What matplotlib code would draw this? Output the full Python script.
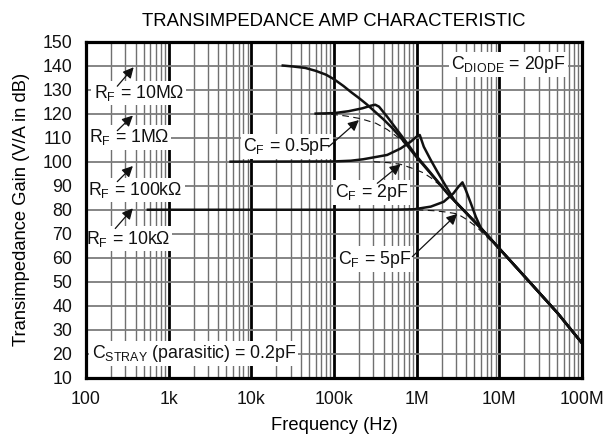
import matplotlib
matplotlib.use("Agg")
import matplotlib.pyplot as plt
from matplotlib.ticker import FixedLocator, NullFormatter

plt.rcParams['font.family'] = ['Liberation Sans', 'DejaVu Sans']
plt.rcParams['mathtext.default'] = 'regular'

# values: frequency (Hz), gain (dB)
tail_f = [2.4e6, 6.0e6, 1.04e7, 2.4e7, 5.1e7, 1.0e8]
tail_db = [86.5, 72.3, 63.2, 49.4, 36.9, 24.5]

rf10m_f = [2.4e4, 3.2e4, 4.5e4, 6.0e4, 8.0e4, 1.0e5, 1.3e5, 1.6e5, 2.0e5, 2.5e5,
           3.2e5, 4.0e5, 5.0e5, 6.3e5, 8.0e5, 1.0e6, 1.4e6]
rf10m_db = [140, 139.6, 139.0, 137.8, 136.2, 134.3, 131.5, 129.0, 126.5, 123.8,
            120.5, 117.5, 114.2, 110.3, 106.0, 101.8, 96.0]

rf1m_f = [6.0e4, 1.0e5, 1.5e5, 2.2e5, 2.8e5, 3.15e5, 3.5e5, 4.4e5, 5.8e5, 7.7e5, 9.7e5, 1.4e6]
rf1m_db = [120, 120.2, 121.0, 122.2, 123.3, 123.7, 122.9, 118.7, 113.2, 107.6, 102.8, 96.3]

rf100k_f = [5.6e3, 1.0e5, 1.6e5, 2.25e5, 4.4e5, 6.4e5, 8.45e5, 1.02e6, 1.09e6, 1.22e6,
            1.48e6, 1.78e6, 2.3e6, 2.9e6]
rf100k_db = [100, 100.1, 100.4, 101.0, 102.8, 105.5, 108.3, 110.7, 111.1, 106.2,
             100.7, 95.8, 89.3, 83.6]

rf10k_f = [5.6e2, 5.0e5, 9.3e5, 1.48e6, 2.12e6, 2.78e6, 3.21e6, 3.58e6, 3.93e6, 4.52e6, 5.19e6]
rf10k_db = [80, 80, 80.2, 81.3, 83.3, 86.8, 89.6, 91.4, 88.2, 82.7, 77.1]

cf05_f = [6.8e4, 1.0e5, 1.4e5, 2.1e5, 3.2e5, 4.4e5, 6.4e5, 8.7e5, 1.1e6]
cf05_db = [120, 119.6, 119.0, 117.9, 116.0, 113.4, 109.3, 104.6, 100.0]

cf2_f = [3.0e5, 4.5e5, 6.4e5, 9.3e5, 1.2e6, 1.5e6, 2.1e6, 2.8e6]
cf2_db = [100, 99.6, 98.9, 97.0, 95.4, 93.2, 89.0, 84.0]

cf5_f = [1.0e6, 1.6e6, 2.2e6, 3.1e6, 4.1e6, 5.4e6, 7.5e6]
cf5_db = [80, 79.6, 79.1, 78.3, 75.8, 72.6, 67.8]

x_ticks = [1e2, 1e3, 1e4, 1e5, 1e6, 1e7, 1e8]
x_labels = ['100', '1k', '10k', '100k', '1M', '10M', '100M']
y_ticks = list(range(10, 151, 10))


def with_tail(f, db):
    ff = list(f) + [t for t in tail_f if t > f[-1]]
    dd = list(db) + [d for t, d in zip(tail_f, tail_db) if t > f[-1]]
    return ff, dd


fig = plt.figure(figsize=(6.14, 4.43), dpi=100)
ax = fig.add_axes([86 / 614, 1 - 378 / 443, 496 / 614, 336.5 / 443])
ax.set_xscale('log')
ax.set_xlim(1e2, 1e8)
ax.set_ylim(10, 150)

# grid
minor = [m * 10 ** e for e in range(2, 8) for m in range(2, 10)]
for x in minor:
    ax.axvline(x, color='#707070', lw=1.0, zorder=1)
for x in x_ticks[1:-1]:
    ax.axvline(x, color='black', lw=2.0, zorder=1)
for y in y_ticks[1:-1]:
    ax.axhline(y, color='#7c7c7c', lw=1.3, zorder=1)

for f, db in [(rf10m_f, rf10m_db), (rf1m_f, rf1m_db), (rf100k_f, rf100k_db), (rf10k_f, rf10k_db)]:
    ff, dd = with_tail(f, db)
    ax.plot(ff, dd, color='#111111', lw=1.8, solid_joinstyle='round', zorder=5)
for f, db in [(cf05_f, cf05_db), (cf2_f, cf2_db), (cf5_f, cf5_db)]:
    ff, dd = with_tail(f, db)
    ax.plot(ff, dd, color='#111111', lw=0.8, ls=(0, (6, 4)), zorder=5)

ax.xaxis.set_major_locator(FixedLocator(x_ticks))
ax.set_xticklabels(x_labels)
ax.xaxis.set_minor_formatter(NullFormatter())
ax.xaxis.set_minor_locator(FixedLocator([]))
ax.set_yticks(y_ticks)
ax.tick_params(length=0, labelsize=12.8, colors='#111111')
ax.tick_params(axis='y', pad=10)
ax.tick_params(axis='x', pad=9)
for s in ax.spines.values():
    s.set_linewidth(2.3)
    s.set_zorder(6)

ax.set_xlabel('Frequency (Hz)', fontsize=13.2, labelpad=7)
ax.set_ylabel('Transimpedance Gain (V/A in dB)', fontsize=13.2, labelpad=9)
ax.set_title('TRANSIMPEDANCE AMP CHARACTERISTIC', fontsize=13.3, pad=11)

box = dict(facecolor='white', edgecolor='none', pad=1.5)
labels = [
    (1.29e7, 140.3, r'C$_{DIODE}$ = 20pF'),
    (434, 128.5, r'R$_F$ = 10MΩ'),
    (331, 110.1, r'R$_F$ = 1MΩ'),
    (398, 88.2, r'R$_F$ = 100kΩ'),
    (320, 68.0, r'R$_F$ = 10kΩ'),
    (2.7e4, 106.2, r'C$_F$ = 0.5pF'),
    (2.83e5, 87.1, r'C$_F$ = 2pF'),
    (3.1e5, 59.5, r'C$_F$ = 5pF'),
    (2.02e3, 20.3, r'C$_{STRAY}$ (parasitic) = 0.2pF'),
]
for x, y, t in labels:
    ax.text(x, y, t, ha='center', va='center', fontsize=12.8, color='#111111', bbox=box, zorder=3)

arrows = [
    ((239, 131.4), (377, 139.3)),
    ((239, 112.9), (369, 119.2)),
    ((239, 91.7), (369, 98.2)),
    ((226, 72.2), (369, 80.6)),
    ((8.6e4, 106.2), (2.0e5, 117.3)),
    ((3.34e5, 91.0), (6.4e5, 98.9)),
    ((8.87e5, 60.5), (3.1e6, 78.3)),
]
for tail, head in arrows:
    ax.annotate('', xy=head, xytext=tail,
                arrowprops=dict(arrowstyle='-|>', color='#111111', lw=0.9,
                                mutation_scale=16, shrinkA=0, shrinkB=0),
                zorder=4)

fig.savefig('out.png', dpi=100)
